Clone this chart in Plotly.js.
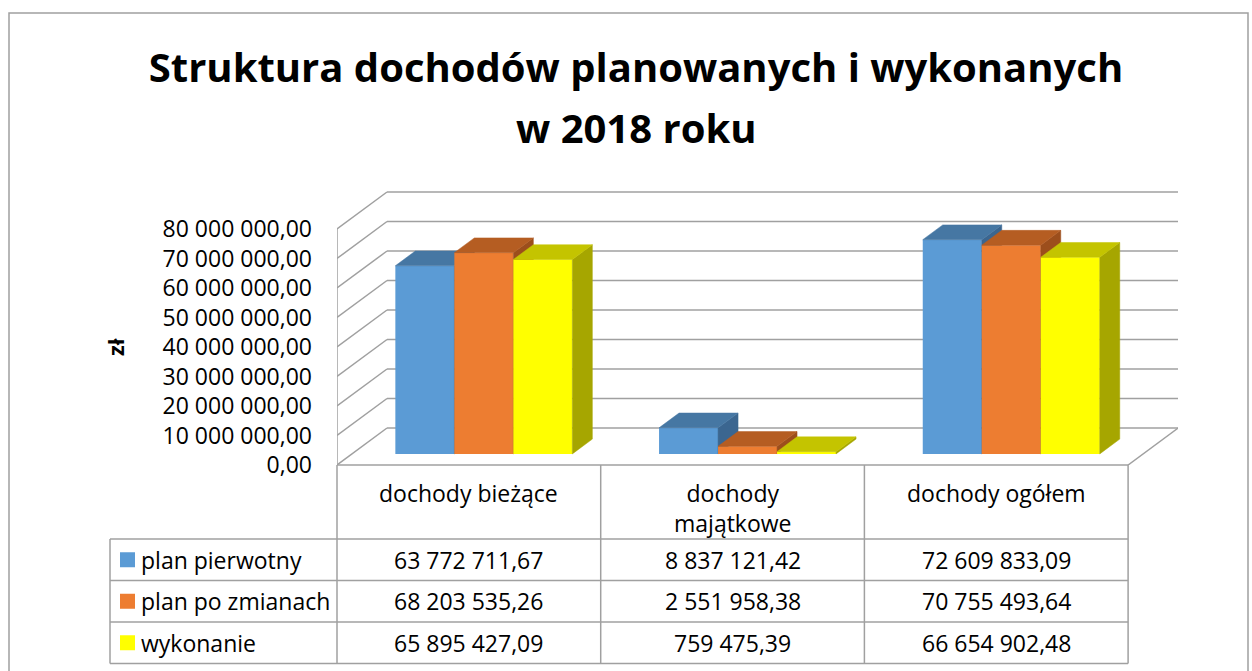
<!DOCTYPE html>
<html>
<head>
<meta charset="utf-8">
<script src="https://cdn.plot.ly/plotly-3.0.1.min.js"></script>
<style>html,body{margin:0;padding:0;background:#fff;}#chart{width:1252px;height:671px;}</style>
</head>
<body>
<div id="chart"></div>
<script>
// ---- data ----
var titleLines = ['Struktura dochodów planowanych i wykonanych', 'w 2018 roku'];
var yAxisTitle = 'zł';
var categories = ['dochody bieżące', 'dochody majątkowe', 'dochody ogółem'];
var categoryLabels = ['dochody bieżące', 'dochody<br>majątkowe', 'dochody ogółem'];
var seriesNames = ['plan pierwotny', 'plan po zmianach', 'wykonanie'];
var planPierwotny = [63772711.67, 8837121.42, 72609833.09];
var planPoZmianach = [68203535.26, 2551958.38, 70755493.64];
var wykonanie = [65895427.09, 759475.39, 66654902.48];
var tickValues = [0, 10000000, 20000000, 30000000, 40000000, 50000000, 60000000, 70000000, 80000000];

// ---- helpers ----
function fmt(v) {
  var s = v.toFixed(2).split('.');
  var ip = s[0].replace(/\B(?=(\d{3})+(?!\d))/g, ' ');
  return ip + ',' + s[1];
}
var seriesValues = [planPierwotny, planPoZmianach, wykonanie];
var frontCol = ['#5B9BD5', '#ED7D31', '#FFFF00'];
var topCol = ['#4677A3', '#B55D22', '#C4C400'];
var sideCol = ['#3B6690', '#9C4E1C', '#A6A600'];

// geometry (pixels)
var L = 337, W = 841, T = 185, H = 280;
var pxPerCat = 263.7;
var pxPerM = 2.95; // pixels per 1 000 000
var xr0 = -0.5, xr1 = -0.5 + W / pxPerCat;
var yr1 = H / pxPerM * 1e6;
var DX = 50 / pxPerCat, DY = 37 / pxPerM * 1e6;     // floor depth
var fShift = 0.3, bDepth = 0.4;                      // bar position within depth
var wB = 59 / pxPerCat;
function px(x) { return (x - L) / W; }
function py(y) { return (T + H - y) / H; }

var traces = [];
for (var s = 0; s < 3; s++) {
  var xa = 'x' + (s + 2), ya = 'y' + (s + 2);
  var off = (s - 1.5) * wB;
  var vals = seriesValues[s];
  traces.push({
    type: 'bar', x: [0, 1, 2], y: vals, name: seriesNames[s],
    width: wB, offset: off, xaxis: xa, yaxis: ya,
    marker: {color: frontCol[s], line: {width: 0}}, hoverinfo: 'skip', showlegend: false
  });
  var tx = [], ty = [], sx = [], sy = [];
  var bdx = bDepth * DX, bdy = bDepth * DY;
  for (var c = 0; c < vals.length; c++) {
    var v = vals[c], x0 = c + off, x1 = x0 + wB;
    tx.push(x0, x1, x1 + bdx, x0 + bdx, x0, null);
    ty.push(v, v, v + bdy, v + bdy, v, null);
    sx.push(x1, x1, x1 + bdx, x1 + bdx, x1, null);
    sy.push(0, v, v + bdy, bdy, 0, null);
  }
  traces.push({type: 'scatter', mode: 'lines', x: sx, y: sy, xaxis: xa, yaxis: ya, fill: 'toself',
    fillcolor: sideCol[s], line: {width: 0.5, color: sideCol[s]}, hoverinfo: 'skip', showlegend: false});
  traces.push({type: 'scatter', mode: 'lines', x: tx, y: ty, xaxis: xa, yaxis: ya, fill: 'toself',
    fillcolor: topCol[s], line: {width: 0.5, color: topCol[s]}, hoverinfo: 'skip', showlegend: false});
}

var gridCol = '#A0A0A0';
var shapes = [];
// walls
tickValues.forEach(function (v) {
  shapes.push({type: 'line', xref: 'x', yref: 'y', x0: xr0, y0: v, x1: xr0 + DX, y1: v + DY, line: {color: gridCol, width: 1.5}, layer: 'below'});
  shapes.push({type: 'line', xref: 'x', yref: 'y', x0: xr0 + DX, y0: v + DY, x1: 2.5 + DX, y1: v + DY, line: {color: gridCol, width: 1.5}, layer: 'below'});
});
shapes.push({type: 'line', xref: 'x', yref: 'y', x0: xr0, y0: 0, x1: xr0, y1: tickValues[tickValues.length - 1], line: {color: gridCol, width: 1.5}, layer: 'below'});
shapes.push({type: 'line', xref: 'x', yref: 'y', x0: 2.5, y0: 0, x1: 2.5 + DX, y1: DY, line: {color: gridCol, width: 1.5}, layer: 'below'});

// outer frame
shapes.push({type: 'rect', xref: 'paper', yref: 'paper', x0: px(9), x1: px(1248), y0: py(13), y1: py(700), line: {color: '#A0A0A0', width: 1.5}, layer: 'below'});

// table lines
var rowY = [539, 580.5, 622, 663.5];
var tableTop = 465, legLeft = 110;
var colX = [-0.5, 0.5, 1.5, 2.5];
function hline(xa, xb, y) { shapes.push({type: 'line', xref: 'paper', yref: 'paper', x0: px(xa), x1: px(xb), y0: py(y), y1: py(y), line: {color: gridCol, width: 1.5}}); }
function vline(x, ya, yb) { shapes.push({type: 'line', xref: 'paper', yref: 'paper', x0: px(x), x1: px(x), y0: py(ya), y1: py(yb), line: {color: gridCol, width: 1.5}}); }
hline(L, L + 3 * pxPerCat, tableTop);
rowY.forEach(function (y) { hline(legLeft, L + 3 * pxPerCat, y); });
colX.forEach(function (c) { vline(L + (c + 0.5) * pxPerCat, tableTop, rowY[3]); });
vline(legLeft, rowY[0], rowY[3]);

var FONT = 'Open Sans, sans-serif';
var annotations = [];
var tf = {family: FONT, size: 23, color: '#000'};
// second title line
annotations.push({xref: 'paper', yref: 'paper', x: px(636), y: py(127), xanchor: 'center', yanchor: 'middle', text: titleLines[1], showarrow: false,
  font: {family: FONT, size: 40, weight: 'bold', color: '#000'}});
// y axis title (centred on the front wall 0..80 000 000)
annotations.push({xref: 'paper', yref: 'y', x: px(115), y: tickValues[tickValues.length - 1] / 2, xanchor: 'center', yanchor: 'middle', textangle: -90,
  text: yAxisTitle, showarrow: false, font: {family: FONT, size: 22, weight: 'bold', color: '#000'}});
categoryLabels.forEach(function (lab, c) {
  annotations.push({xref: 'x', yref: 'paper', x: c, y: py(475), yanchor: 'top', xanchor: 'center', text: lab, showarrow: false, font: tf});
});
for (var s2 = 0; s2 < 3; s2++) {
  var yc = (rowY[s2] + rowY[s2 + 1]) / 2;
  shapes.push({type: 'rect', xref: 'paper', yref: 'paper', x0: px(120), x1: px(135), y0: py(yc - 7.5), y1: py(yc + 7.5), fillcolor: frontCol[s2], line: {width: 0}});
  annotations.push({xref: 'paper', yref: 'paper', x: px(139), y: py(yc), xanchor: 'left', yanchor: 'middle', text: seriesNames[s2], showarrow: false, font: tf});
  seriesValues[s2].forEach(function (v, c) {
    annotations.push({xref: 'x', yref: 'paper', x: c, y: py(yc), xanchor: 'center', yanchor: 'middle', text: fmt(v), showarrow: false, font: tf});
  });
}

var hidX = {overlaying: 'x', range: [xr0 - fShift * DX, xr1 - fShift * DX], visible: false, fixedrange: true};
var hidY = {overlaying: 'y', range: [-fShift * DY, yr1 - fShift * DY], visible: false, fixedrange: true};

var layout = {
  width: 1252, height: 671,
  margin: {l: L, r: 1252 - L - W, t: T, b: 671 - T - H},
  paper_bgcolor: '#fff', plot_bgcolor: 'rgba(0,0,0,0)',
  showlegend: false,
  title: {text: titleLines[0], x: 636 / 1252, xref: 'container', xanchor: 'center',
    y: 1 - 68 / 671, yref: 'container', yanchor: 'middle',
    font: {family: FONT, size: 40, weight: 'bold', color: '#000'}},
  xaxis: {range: [xr0, xr1], visible: false, fixedrange: true},
  yaxis: {range: [0, yr1], tickvals: tickValues, ticktext: tickValues.map(fmt), showgrid: false, zeroline: false, showline: false,
    ticks: '', ticklabelstandoff: 24, tickfont: {family: FONT, size: 23, color: '#000'}, fixedrange: true},
  xaxis2: Object.assign({}, hidX), yaxis2: Object.assign({}, hidY),
  xaxis3: Object.assign({}, hidX), yaxis3: Object.assign({}, hidY),
  xaxis4: Object.assign({}, hidX), yaxis4: Object.assign({}, hidY),
  shapes: shapes, annotations: annotations
};
Plotly.newPlot('chart', traces, layout, {displayModeBar: false, staticPlot: true});
</script>
</body>
</html>
